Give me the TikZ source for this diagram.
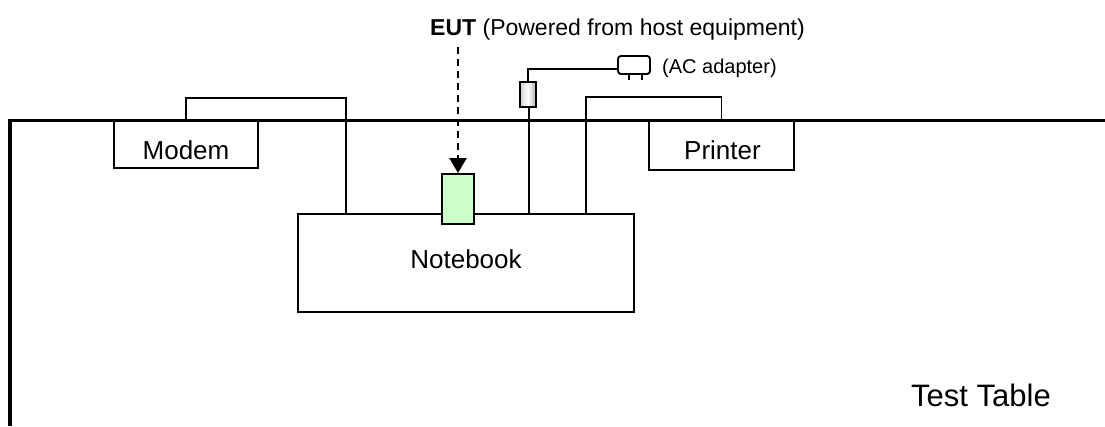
\documentclass[tikz,border=0pt]{standalone}
\usepackage{fontspec}
\setmainfont{Liberation Sans}
\usetikzlibrary{arrows.meta}
\definecolor{eutgreen}{HTML}{CCFFCC}
\tikzset{
  box/.style={draw, line width=1.9pt, fill=white, inner sep=0pt},
  cable/.style={line width=1.9pt},
  tableline/.style={line width=3.2pt},
  lab/.style={inner sep=0pt, anchor=base, font=\fontsize{26}{30}\selectfont},
}
\begin{document}
\begin{tikzpicture}[x=1pt,y=-1pt]
\useasboundingbox (0,0) rectangle (1105,426);
% table edge
\draw[tableline] (10,426) -- (10,120.5) -- (1105,120.5);
% boxes
\node[box, minimum width=144pt, minimum height=47pt] (modem) at (186,144.5) {};
\node[box, minimum width=145pt, minimum height=49pt] (printer) at (721.5,145.5) {};
\node[box, minimum width=336pt, minimum height=98pt] (notebook) at (466,263) {};
\node[lab] (modemtxt) at (186,159) {Modem};
\node[lab] (printertxt) at (722.5,159) {Printer};
\node[lab] (notebooktxt) at (466,268) {Notebook};
\node[lab, anchor=base west, font=\fontsize{31}{35}\selectfont] (tabletxt) at (911,406) {Test Table};
% coordinates on the notebook top
\coordinate (nbA) at (346,214);
\coordinate (nbB) at (529,214);
\coordinate (nbC) at (586,214);
\coordinate (mBend) at (346,98);
\coordinate (pBend) at (586,97);
% modem cable
\draw[cable] (modem.north) |- (mBend) -- (nbA);
% printer cable
\draw[cable] (printer.north) |- (pBend) -- (nbC);
% AC adapter
\node[draw, line width=1.9pt, shading=axis, left color=gray!35, right color=gray!65, middle color=white, minimum width=16pt, minimum height=25pt, inner sep=0pt] (conn) at (528,94.5) {};
\node[draw, line width=1.9pt, fill=white, rounded corners=3pt, minimum width=32pt, minimum height=18pt, inner sep=0pt] (adapter) at (634,65) {};
\coordinate (acBend) at (528,69);
\coordinate (acIn) at (618,69);
\draw[cable] (nbB) -- (nbB |- conn.south);
\draw[cable] (conn.north) -- (acBend) -- (acIn);
\draw[cable] (629,74) -- (629,80);
\draw[cable] (642,74) -- (642,80);
\node[lab, anchor=base west, font=\fontsize{20}{24}\selectfont] (actxt) at (662,73) {(AC adapter)};
% EUT
\node[box, fill=eutgreen, minimum width=32pt, minimum height=50pt] (eut) at (458,199) {};
\node[lab, anchor=base west, font=\fontsize{23}{27}\selectfont] (title) at (430,35) {\textbf{EUT} (Powered from host equipment)};
\coordinate (arrowtop) at (458,47);
\draw[line width=2.2pt, dash pattern=on 7pt off 5pt, -{Triangle[length=15pt,width=17pt]}] (arrowtop) -- (eut.north);
\end{tikzpicture}
\end{document}
